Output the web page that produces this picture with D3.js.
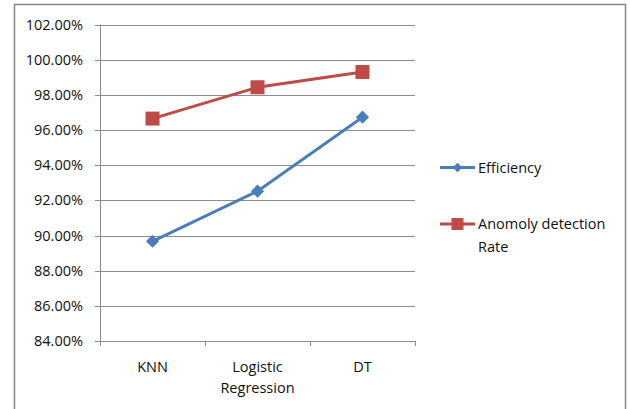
<!DOCTYPE html>
<html>
<head>
<meta charset="utf-8">
<script src="https://cdn.jsdelivr.net/npm/d3@7"></script>
<style>
  body { margin: 0; background: #fff; }
  svg text { font-family: "Open Sans", "Liberation Sans", sans-serif; fill: #111; }
</style>
</head>
<body>
<div id="chart"></div>
<script>
const categories = ["KNN", "Logistic\nRegression", "DT"];
const efficiency = [89.67, 92.52, 96.73];
const anomalyRate = [96.65, 98.43, 99.30];
const yTicks = [84, 86, 88, 90, 92, 94, 96, 98, 100, 102];
const seriesNames = ["Efficiency", "Anomoly detection\nRate"];

const W = 630, H = 409;
const plot = { left: 100, right: 415, top: 24.5, bottom: 341 };

const svg = d3.select("#chart").append("svg")
    .attr("width", W)
    .attr("height", H);

// outer frame
svg.append("rect")
    .attr("x", 14.5).attr("y", 4.5)
    .attr("width", 611).attr("height", 420)
    .attr("fill", "none")
    .attr("stroke", "#868686")
    .attr("stroke-width", 1.5);

const x = d3.scaleBand().domain(d3.range(categories.length)).range([plot.left, plot.right]);
const y = d3.scaleLinear().domain([84, 102]).range([plot.bottom, plot.top]);

// gridlines
svg.append("g")
    .selectAll("line")
    .data(yTicks)
    .enter()
    .append("line")
    .attr("x1", plot.left - 5)
    .attr("x2", plot.right)
    .attr("y1", d => Math.round(y(d)) + 0.5)
    .attr("y2", d => Math.round(y(d)) + 0.5)
    .attr("stroke", "#8c8c8c")
    .attr("stroke-width", 1);

// y axis line
svg.append("line")
    .attr("x1", plot.left + 0.5).attr("x2", plot.left + 0.5)
    .attr("y1", plot.top).attr("y2", plot.bottom + 5)
    .attr("stroke", "#8c8c8c");

// x ticks
svg.append("g")
    .selectAll("line")
    .data(d3.range(categories.length + 1))
    .enter()
    .append("line")
    .attr("x1", d => Math.round(plot.left + d * x.bandwidth()) + 0.5)
    .attr("x2", d => Math.round(plot.left + d * x.bandwidth()) + 0.5)
    .attr("y1", plot.bottom)
    .attr("y2", plot.bottom + 5)
    .attr("stroke", "#8c8c8c");

// y labels
svg.append("g")
    .selectAll("text")
    .data(yTicks)
    .enter()
    .append("text")
    .attr("x", plot.left - 17)
    .attr("y", d => y(d))
    .attr("dy", "0.35em")
    .attr("text-anchor", "end")
    .attr("font-size", "14.5px")
    .text(d => d3.format(".2f")(d) + "%");

// x labels
const xl = svg.append("g")
    .selectAll("text")
    .data(categories)
    .enter()
    .append("text")
    .attr("x", (d, i) => x(i) + x.bandwidth() / 2)
    .attr("y", 367)
    .attr("text-anchor", "middle")
    .attr("font-size", "14.5px");
xl.selectAll("tspan")
    .data(d => d.split("\n"))
    .enter()
    .append("tspan")
    .attr("x", function() { return this.parentNode.getAttribute("x"); })
    .attr("dy", (d, i) => i === 0 ? "0.35em" : "21px")
    .text(d => d);

const colors = ["#4a7ebb", "#be4b48"];
const line = d3.line()
    .x((d, i) => x(i) + x.bandwidth() / 2)
    .y(d => y(d));

function drawMarker(g, kind, color) {
    if (kind === 0) {
        g.append("path")
            .attr("d", d3.symbol().type(d3.symbolDiamond2).size(110)())
            .attr("fill", color);
    } else {
        g.append("rect")
            .attr("x", -7).attr("y", -7)
            .attr("width", 14).attr("height", 14)
            .attr("fill", color);
    }
}

[efficiency, anomalyRate].forEach((vals, k) => {
    svg.append("path")
        .datum(vals)
        .attr("d", line)
        .attr("fill", "none")
        .attr("stroke", colors[k])
        .attr("stroke-width", 3);
    vals.forEach((v, i) => {
        const g = svg.append("g")
            .attr("transform", `translate(${x(i) + x.bandwidth() / 2},${y(v)})`);
        drawMarker(g, k, colors[k]);
    });
});

// legend
const legendY = [167.5, 224];
seriesNames.forEach((name, k) => {
    const g = svg.append("g").attr("transform", `translate(440,${legendY[k]})`);
    g.append("line")
        .attr("x1", 0).attr("x2", 35)
        .attr("stroke", colors[k])
        .attr("stroke-width", 3);
    const mg = g.append("g").attr("transform", "translate(17.5,0)");
    if (k === 0) {
        mg.append("path")
            .attr("d", d3.symbol().type(d3.symbolDiamond2).size(60)())
            .attr("fill", colors[k]);
    } else {
        mg.append("rect")
            .attr("x", -6).attr("y", -6)
            .attr("width", 12).attr("height", 12)
            .attr("fill", colors[k]);
    }
    const t = g.append("text")
        .attr("x", 38)
        .attr("y", 0)
        .attr("font-size", "14.5px");
    t.selectAll("tspan")
        .data(name.split("\n"))
        .enter()
        .append("tspan")
        .attr("x", 38)
        .attr("dy", (d, i) => i === 0 ? "0.35em" : "23px")
        .text(d => d);
});
</script>
</body>
</html>
